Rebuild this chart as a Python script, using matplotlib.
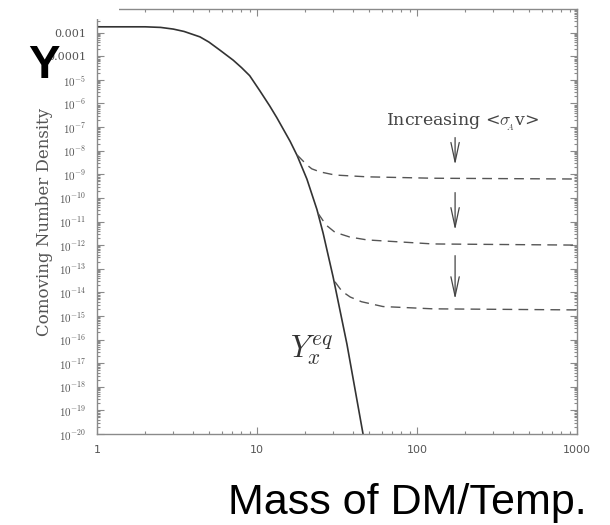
import numpy as np
import matplotlib
matplotlib.use("Agg")
import matplotlib.pyplot as plt
from matplotlib.ticker import LogLocator, FixedLocator, FixedFormatter, NullFormatter
from matplotlib.patches import Rectangle

plt.rcParams['mathtext.fontset'] = 'cm'

# equilibrium curve Y_x^eq
x_eq = [1.0, 2.0, 2.5, 3.0, 3.5, 4.4, 5.0, 5.87, 7.1, 8.0, 9.0, 10.4, 12.0, 13.3, 16.1, 17.8,
        20.5, 23.7, 25.9, 29.9, 36.5, 46.0]
y_eq = [1.76e-3, 1.76e-3, 1.66e-3, 1.41e-3, 1.12e-3, 6.6e-4, 4.0e-4, 1.8e-4, 6.8e-5, 3.3e-5,
        1.5e-5, 3.5e-6, 7.9e-7, 2.5e-7, 2.5e-8, 6.3e-9, 6.3e-10, 3.2e-11, 3.2e-12, 4.5e-14,
        6.3e-17, 1e-20]

# freeze-out curves (dashed)
x_d1 = [17.8, 20.5, 22.0, 24.8, 30.7, 48.7, 126, 1000]
y_d1 = [6.6e-9, 2.5e-9, 1.7e-9, 1.26e-9, 9.3e-10, 7.8e-10, 6.8e-10, 6.3e-10]
x_d2 = [24.0, 27.0, 30.7, 38.0, 48.7, 126, 1000]
y_d2 = [2.3e-11, 7.1e-12, 3.5e-12, 2.2e-12, 1.66e-12, 1.12e-12, 1.0e-12]
x_d3 = [30.7, 34.0, 38.3, 45.0, 61.3, 126, 1000]
y_d3 = [2.8e-14, 1.1e-14, 6.3e-15, 4.0e-15, 2.5e-15, 2.0e-15, 1.8e-15]

# arrows (start, end) at x = 173
arrow_x = 173
arrow_y = [(4.7e-8, 1.9e-9), (2.2e-10, 3.3e-12), (4.7e-13, 3.9e-15)]

ytick_vals = [10.0 ** -k for k in range(3, 21)]
ytick_labels = ['0.001', '0.0001'] + [r'$10^{-%d}$' % k for k in range(5, 21)]
xtick_vals = [1, 10, 100, 1000]
xtick_labels = ['1', '10', '100', '1000']

fig = plt.figure(figsize=(6.1, 5.25), dpi=100)
ax = fig.add_axes([97 / 610, 1 - 434 / 525, 480 / 610, 425 / 525])

line_c = '#333333'
axis_c = '#8a8a8a'

ax.plot(x_eq, y_eq, color=line_c, lw=1.2)
dash = (0, (7, 4.5))
for xs, ys in [(x_d1, y_d1), (x_d2, y_d2), (x_d3, y_d3)]:
    ax.plot(xs, ys, color='#555555', lw=1.0, linestyle=dash)

for y0, y1 in arrow_y:
    ax.annotate('', xy=(arrow_x, y1), xytext=(arrow_x, y0),
                arrowprops=dict(arrowstyle='->,head_length=1.4,head_width=0.3', color='#444444', lw=0.9))

ax.text(194, 1.5e-7, r'Increasing <$\sigma_{\!\!_A}$v>', ha='center', va='center',
        fontsize=12.5, family='DejaVu Serif', color='#444444')
ax.text(16.1, 3.6e-17, r'$Y_x^{eq}$', ha='left', va='center', fontsize=22, color='#333333')

ax.set_xscale('log')
ax.set_yscale('log')
ax.set_xlim(1, 1000)
ax.set_ylim(1e-20, 1e-2)

for s in ax.spines.values():
    s.set_color(axis_c)
    s.set_linewidth(1.0)

ax.yaxis.set_major_locator(FixedLocator(ytick_vals))
ax.yaxis.set_major_formatter(FixedFormatter(ytick_labels))
ax.yaxis.set_minor_locator(LogLocator(base=10, subs=np.arange(2, 10), numticks=40))
ax.yaxis.set_minor_formatter(NullFormatter())
ax.xaxis.set_major_locator(FixedLocator(xtick_vals))
ax.xaxis.set_major_formatter(FixedFormatter(xtick_labels))
ax.xaxis.set_minor_locator(LogLocator(base=10, subs=np.arange(2, 10), numticks=20))
ax.xaxis.set_minor_formatter(NullFormatter())

ax.tick_params(which='both', direction='in', top=True, right=True, color=axis_c, width=0.8)
ax.tick_params(which='major', length=5)
ax.tick_params(which='minor', length=2.5)
ax.tick_params(axis='y', labelsize=8, labelcolor='#555555', pad=8)
ax.tick_params(axis='x', labelsize=8, labelcolor='#555555', pad=8)
for lab in ax.get_yticklabels():
    lab.set_family('DejaVu Serif')

# white patch over the top-left corner
fig.patches.append(Rectangle((0, 1 - 19 / 525), 119 / 610, 19 / 525, transform=fig.transFigure,
                             facecolor='white', edgecolor='none', zorder=10))

fig.text(45 / 610, 1 - 222 / 525, 'Comoving Number Density', rotation=90, ha='center', va='center',
         fontsize=12, family='DejaVu Serif', color='#555555')
fig.text(28 / 610, 1 - 78 / 525, 'Y', fontsize=34, weight='bold', family='Liberation Sans',
         va='baseline', ha='left', color='black', zorder=11)
fig.text(407 / 610, 1 - 514 / 525, 'Mass of DM/Temp.', fontsize=31, family='Liberation Sans',
         va='baseline', ha='center', color='black')

fig.savefig('out.png', dpi=100)
